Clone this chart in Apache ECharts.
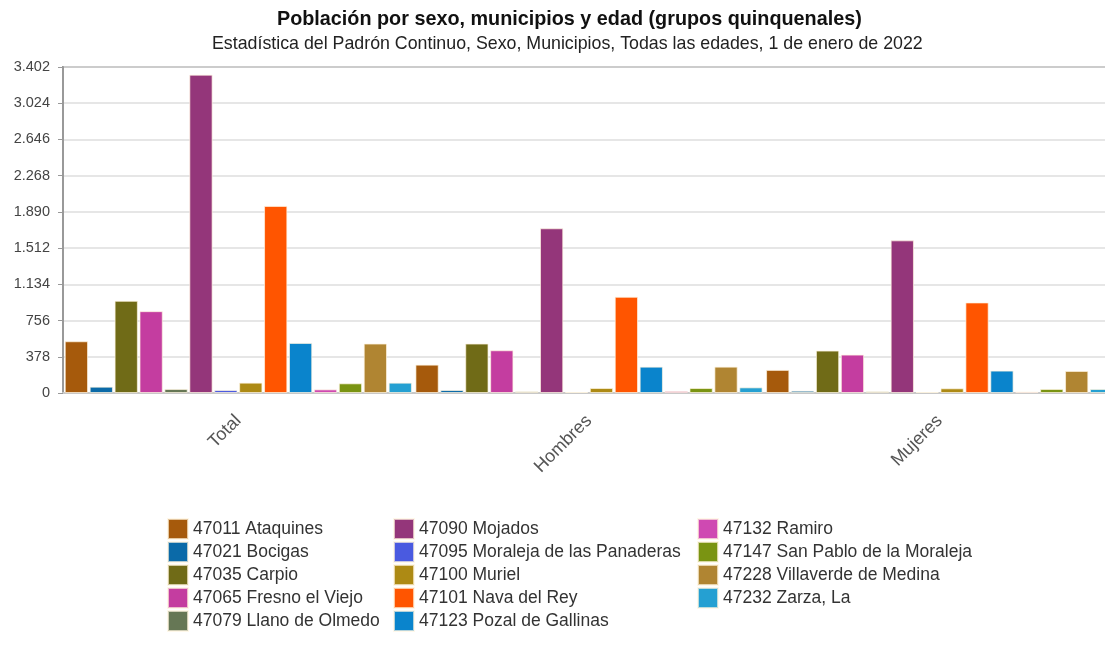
<!DOCTYPE html>
<html>
<head>
<meta charset="utf-8">
<script src="https://cdn.jsdelivr.net/npm/echarts@6/dist/echarts.min.js"></script>
<style>
  html, body { margin: 0; padding: 0; background: #fff; overflow: hidden; }
  #chart { width: 1105px; height: 648px; }
</style>
</head>
<body>
<div id="chart"></div>
<script>
// categorias del eje x
const categories = ['Total', 'Hombres', 'Mujeres']

// municipios (orden de las series)
const municipios = [
  '47011 Ataquines', '47021 Bocigas', '47035 Carpio', '47065 Fresno el Viejo',
  '47079 Llano de Olmedo', '47090 Mojados', '47095 Moraleja de las Panaderas',
  '47100 Muriel', '47101 Nava del Rey', '47123 Pozal de Gallinas',
  '47132 Ramiro', '47147 San Pablo de la Moraleja', '47228 Villaverde de Medina',
  '47232 Zarza, La'
]

// valores: Total, Hombres, Mujeres
const ataquines = [540, 296, 241]
const bocigas = [66, 31, 24]
const carpio = [962, 516, 443]
const fresno = [854, 446, 401]
const llano = [42, 17, 17]
const mojados = [3322, 1719, 1593]
const moraleja = [31, 10, 10]
const muriel = [108, 52, 49]
const nava = [1952, 1004, 945]
const pozal = [523, 275, 234]
const ramiro = [38, 21, 14]
const sanPablo = [101, 52, 42]
const villaverde = [516, 275, 230]
const zarza = [108, 59, 42]

const valores = [ataquines, bocigas, carpio, fresno, llano, mojados, moraleja,
  muriel, nava, pozal, ramiro, sanPablo, villaverde, zarza]

const colores = ['#a65a0c', '#0b6aa8', '#706b17', '#c43da0', '#667755', '#94367a',
  '#4a5ae0', '#ad8a14', '#ff5500', '#0a84cc', '#cf49b2', '#7a9412', '#b08532', '#25a0d2']

// ticks del eje y
const yMax = 3402
const yStep = 378

const fmt = v => String(v).replace(/\B(?=(\d{3})+(?!\d))/g, '.')

const chart = echarts.init(document.getElementById('chart'))

const legendBase = {
  orient: 'vertical',
  top: 518,
  height: 128,
  padding: 0,
  itemWidth: 20,
  itemHeight: 20,
  itemGap: 1,
  icon: 'rect',
  textStyle: {fontFamily: 'Liberation Sans, Arial', fontSize: 17.5, lineHeight: 20, color: '#333'}
}

chart.setOption({
  animation: false,
  color: colores,
  title: [
    {
      text: 'Población por sexo, municipios y edad (grupos quinquenales)',
      left: 277,
      top: 10,
      padding: 0,
      textStyle: {fontFamily: 'Liberation Sans, Arial', fontSize: 19.8, fontWeight: 'bold', color: '#111'}
    },
    {
      text: 'Estadística del Padrón Continuo, Sexo, Municipios, Todas las edades, 1 de enero de 2022',
      left: 212,
      top: 35,
      padding: 0,
      textStyle: {fontFamily: 'Liberation Sans, Arial', fontSize: 17.8, fontWeight: 'normal', color: '#222'}
    }
  ],
  legend: [
    Object.assign({}, legendBase, {left: 167, data: municipios.slice(0, 5)}),
    Object.assign({}, legendBase, {left: 393, data: municipios.slice(5, 10)}),
    Object.assign({}, legendBase, {left: 697, data: municipios.slice(10)})
  ],
  grid: {
    left: 63,
    width: 1052,
    top: 67,
    height: 326,
    outerBoundsMode: 'none',
    show: true,
    borderColor: '#999',
    borderWidth: 2
  },
  xAxis: {
    type: 'category',
    data: categories,
    axisLine: {lineStyle: {color: '#c8c8c8', width: 2}},
    axisTick: {length: 6, lineStyle: {color: '#c8c8c8'}},
    axisLabel: {
      rotate: 45,
      margin: 25,
      fontFamily: 'Liberation Sans, Arial',
      fontSize: 18,
      color: '#555'
    }
  },
  yAxis: {
    type: 'value',
    min: 0,
    max: yMax,
    interval: yStep,
    axisLine: {show: true, lineStyle: {color: '#999', width: 2}},
    axisTick: {show: true, length: 5, lineStyle: {color: '#999'}},
    axisLabel: {
      formatter: fmt,
      margin: 13,
      fontFamily: 'Liberation Sans, Arial',
      fontSize: 14.5,
      color: '#444'
    },
    splitLine: {lineStyle: {color: '#dedede', width: 1.5}}
  },
  series: municipios.map((name, i) => ({
    name: name,
    type: 'bar',
    data: valores[i],
    barGap: '7%',
    barCategoryGap: '1%',
    itemStyle: {borderColor: 'rgba(255,245,225,0.7)', borderWidth: 1}
  }))
})
</script>
</body>
</html>
